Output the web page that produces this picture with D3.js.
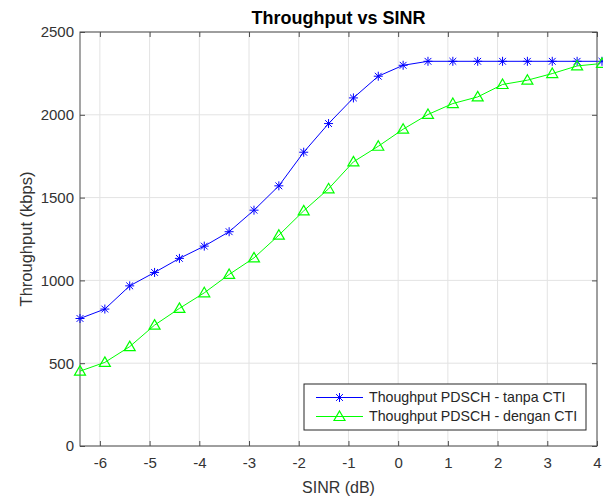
<!DOCTYPE html>
<html>
<head>
<meta charset="utf-8">
<script src="https://cdn.jsdelivr.net/npm/d3@7"></script>
<style>
  body { margin: 0; background: #fff; }
  text { font-family: Arial, "Liberation Sans", sans-serif; }
</style>
</head>
<body>
<div id="chart"></div>
<script>
// data
let sinr = [-6.4, -5.9, -5.4, -4.9, -4.4, -3.9, -3.4, -2.9, -2.4, -1.9, -1.4,
            -0.9, -0.4, 0.1, 0.6, 1.1, 1.6, 2.1, 2.6, 3.1, 3.6, 4.1];
let tanpaCTI = [770, 827, 967, 1048, 1133, 1207, 1294, 1424, 1571, 1774, 1947,
                2102, 2233, 2299, 2323, 2323, 2323, 2323, 2323, 2323, 2323, 2323];
let denganCTI = [452, 505, 600, 730, 831, 925, 1036, 1136, 1273, 1420, 1553,
                 1716, 1810, 1913, 2002, 2068, 2108, 2183, 2209, 2249, 2295, 2310];
let xTicks = [-6, -5, -4, -3, -2, -1, 0, 1, 2, 3, 4];
let yTicks = [0, 500, 1000, 1500, 2000, 2500];
let seriesNames = ["Thoughput PDSCH - tanpa CTI", "Thoughput PDSCH - dengan CTI"];

// set margins, width, height
let margin = {top: 32, right: 6, bottom: 53, left: 80};
let width = 603 - margin.left - margin.right;
let height = 499 - margin.top - margin.bottom;

let svg = d3.select("#chart").append("svg")
    .attr("width", 603)
    .attr("height", 499)
  .append("g")
    .attr("transform", "translate(" + margin.left + "," + margin.top + ")");

let x = d3.scaleLinear().domain([-6.4, 4]).range([0, width]);
let y = d3.scaleLinear().domain([0, 2500]).range([height, 0]);

let axisColor = "#4d4d4d";
let fmt = d => String(d);

// grid
svg.append("g").selectAll("line.vg")
  .data(xTicks).enter().append("line")
    .attr("x1", d => x(d)).attr("x2", d => x(d))
    .attr("y1", 0).attr("y2", height)
    .attr("stroke", "#e3e3e3").attr("stroke-width", 1);
svg.append("g").selectAll("line.hg")
  .data(yTicks).enter().append("line")
    .attr("x1", 0).attr("x2", width)
    .attr("y1", d => y(d)).attr("y2", d => y(d))
    .attr("stroke", "#e3e3e3").attr("stroke-width", 1);

// axes
svg.append("g")
  .attr("transform", "translate(0," + height + ")")
  .call(d3.axisBottom(x).tickValues(xTicks).tickFormat(fmt).tickSize(-5).tickPadding(11).tickSizeOuter(0));
svg.append("g")
  .call(d3.axisLeft(y).tickValues(yTicks).tickFormat(fmt).tickSize(-5).tickPadding(6).tickSizeOuter(0));
// top/right ticks
svg.append("g")
  .call(d3.axisTop(x).tickValues(xTicks).tickSize(-5).tickFormat("").tickSizeOuter(0));
svg.append("g")
  .attr("transform", "translate(" + width + ",0)")
  .call(d3.axisRight(y).tickValues(yTicks).tickSize(-5).tickFormat("").tickSizeOuter(0));

svg.selectAll(".domain").remove();
svg.selectAll(".tick line").attr("stroke", axisColor);
svg.selectAll(".tick text")
  .attr("fill", "#333")
  .style("font-size", "15px");

// box
svg.append("rect")
  .attr("width", width).attr("height", height)
  .attr("fill", "none").attr("stroke", axisColor).attr("stroke-width", 1);

// clip for lines
svg.append("clipPath").attr("id", "clip")
  .append("rect").attr("width", width).attr("height", height);

let line = d3.line()
  .x((d, i) => x(sinr[i]))
  .y(d => y(d));

let series = [
  {name: seriesNames[0], values: tanpaCTI, color: "#0000ff", marker: "star"},
  {name: seriesNames[1], values: denganCTI, color: "#00ff00", marker: "tri"}
];

function drawMarker(g, type, color) {
  if (type === "star") {
    let r = 4.5, dd = 3.4;
    g.append("path")
      .attr("d", `M${-r},0L${r},0M0,${-r}L0,${r}M${-dd},${-dd}L${dd},${dd}M${-dd},${dd}L${dd},${-dd}`)
      .attr("stroke", color).attr("stroke-width", 1).attr("fill", "none");
  } else {
    g.append("path")
      .attr("d", "M0,-5.5L5.5,4L-5.5,4Z")
      .attr("stroke", color).attr("stroke-width", 1.2).attr("fill", "none");
  }
}

series.forEach(s => {
  svg.append("path")
    .attr("d", line(s.values))
    .attr("clip-path", "url(#clip)")
    .attr("fill", "none")
    .attr("stroke", s.color)
    .attr("stroke-width", 1);

  svg.selectAll(null)
    .data(s.values).enter().append("g")
      .attr("transform", (d, i) => "translate(" + x(sinr[i]) + "," + y(d) + ")")
      .each(function() { drawMarker(d3.select(this), s.marker, s.color); });
});

// legend
let legend = svg.append("g")
  .attr("transform", "translate(" + (304 - margin.left) + "," + (384 - margin.top) + ")");
legend.append("rect")
  .attr("width", 282).attr("height", 46)
  .attr("fill", "#fff").attr("stroke", "#262626").attr("stroke-width", 1);
series.forEach((s, i) => {
  let ly = 13.5 + i * 19;
  legend.append("line")
    .attr("x1", 12).attr("x2", 59).attr("y1", ly).attr("y2", ly)
    .attr("stroke", s.color).attr("stroke-width", 1);
  drawMarker(legend.append("g").attr("transform", "translate(35.5," + ly + ")"), s.marker, s.color);
  legend.append("text")
    .attr("x", 65).attr("y", ly)
    .attr("dy", "0.35em")
    .attr("fill", "#262626")
    .style("font-size", "14.2px")
    .text(s.name);
});

// title and labels
svg.append("text")
  .attr("x", width / 2).attr("y", -8)
  .attr("text-anchor", "middle")
  .attr("fill", "#000")
  .style("font-size", "18px").style("font-weight", "bold")
  .text("Throughput vs SINR");

svg.append("text")
  .attr("x", width / 2).attr("y", height + 47)
  .attr("text-anchor", "middle")
  .attr("fill", "#333")
  .style("font-size", "16px")
  .text("SINR (dB)");

svg.append("text")
  .attr("transform", "translate(" + (-48) + "," + (height / 2) + ") rotate(-90)")
  .attr("text-anchor", "middle")
  .attr("fill", "#333")
  .style("font-size", "16.5px")
  .text("Throughput (kbps)");
</script>
</body>
</html>
